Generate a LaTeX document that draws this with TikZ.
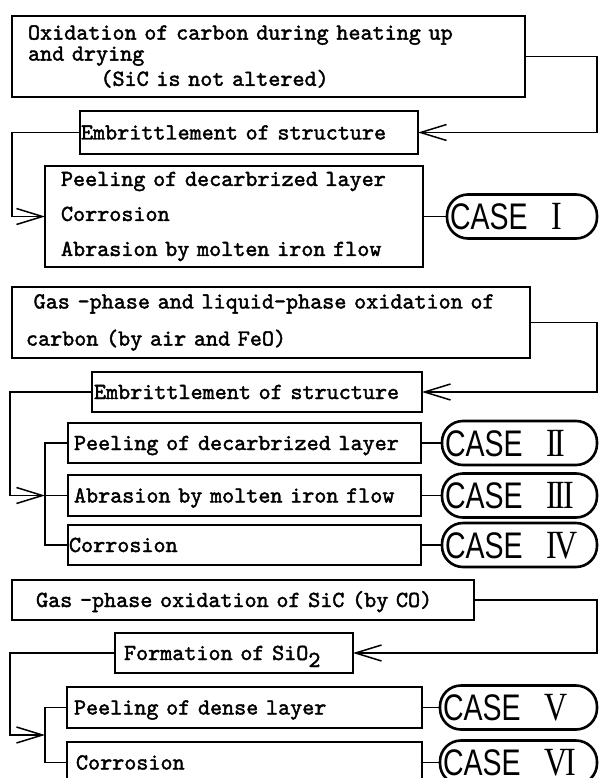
\documentclass[tikz,border=0pt]{standalone}
\usepackage{fontspec}
\newfontfamily\boxfont[FakeBold=1.8]{lmmono10-regular.otf}
\newfontfamily\casefont[FakeStretch=0.77]{Liberation Sans}
\newfontfamily\numfont[FakeStretch=0.8,LetterSpace=-6]{Liberation Serif}
\usetikzlibrary{arrows.meta,positioning,calc}

\begin{document}
\begin{tikzpicture}[
        box/.style={draw, line width=2.8pt, outer sep=0pt, align=left, inner ysep=0pt, font=\boxfont\fontsize{23}{20}\selectfont},
        line/.style={text height=14pt, text depth=0pt},
        casebox/.style={draw, line width=2.6pt, outer sep=0pt, rounded corners=21pt, text width=#1, inner xsep=3pt, inner ysep=8.75pt,
            minimum height=44pt, text height=26.5pt, text depth=0pt, align=left, font=\casefont\fontsize{37}{37}\selectfont},
        link/.style={line width=1.5pt},
        >={Straight Barb[length=26pt,width=16pt]},
    ]
    \useasboundingbox (0,0) rectangle (599pt,-778pt);

    \node[box, anchor=north west, text width=481pt, inner xsep=16pt, minimum height=81pt] (ox1) at (12pt,-16pt)
        {Oxidation of carbon during heating up\\[1pt]and drying\\[3pt]\hspace*{3.15em}(SiC is not altered)};
    \node[box, line, below right=14pt and 68pt of ox1.south west, text width=336pt, inner xsep=1pt, minimum height=43pt] (emb1)
        {Embrittlement of structure};
    \node[box, below right=12pt and -35pt of emb1.south west, text width=346pt, inner xsep=16pt, minimum height=101pt] (peel1)
        {Peeling of decarbrized layer\\[15pt]Corrosion\\[15pt]Abrasion by molten iron flow};
    \node[casebox=144pt, right=24pt of peel1] (case1) {CASE\hspace{24pt}{\numfont\fontsize{40}{40}\selectfont I}};
    \draw[link,->] (ox1.east) -- ++(72pt,0) |- (emb1.east);
    \draw[link,->] (emb1.west) -- ++(-68pt,0) |- (peel1.west);
    \draw[link] (peel1) -- (case1);

    \node[box, below right=20pt and -33pt of peel1.south west, text width=490pt, inner xsep=14pt, minimum height=71pt] (gas2)
        {\mbox{\ Gas -phase and liquid-phase oxidation of}\\[15pt]carbon (by air and FeO)};
    \node[box, line, below right=14pt and 80pt of gas2.south west, text width=326pt, inner xsep=2pt, minimum height=40pt] (emb2)
        {Embrittlement of structure};
    \node[box, line, below right=11pt and -24pt of emb2.south west, text width=341pt, inner xsep=6pt, minimum height=40pt] (peel2)
        {Peeling of decarbrized layer};
    \node[box, line, below=12pt of peel2, text width=341pt, inner xsep=6pt, minimum height=41pt] (abr2)
        {Abrasion by molten iron flow};
    \node[box, line, below=9pt of abr2, text width=351pt, inner xsep=1pt, minimum height=40pt] (corr2)
        {Corrosion};
    \node[casebox=149pt, right=21pt of peel2] (case2) {CASE\hspace{24pt}{\numfont\fontsize{40}{40}\selectfont II}};
    \node[casebox=149pt, right=21pt of abr2] (case3) {CASE\hspace{24pt}{\numfont\fontsize{40}{40}\selectfont III}};
    \node[casebox=149pt, right=21pt of corr2] (case4) {CASE\hspace{24pt}{\numfont\fontsize{40}{40}\selectfont IV}};
    \coordinate (bus2) at ([xshift=-23pt]abr2.west);
    \draw[link,->] (gas2.east) -- ++(67pt,0) |- (emb2.east);
    \draw[link,->] (emb2.west) -- ++(-82pt,0) |- (bus2);
    \draw[link] (peel2.west) -- ++(-23pt,0) |- (corr2.west);
    \draw[link] (bus2) -- (abr2.west);
    \draw[link] (peel2) -- (case2);
    \draw[link] (abr2) -- (case3);
    \draw[link] (corr2) -- (case4);

    \node[box, line, below right=15pt and -56pt of corr2.south west, text width=438pt, inner xsep=12pt, minimum height=40pt] (gas3)
        {\hspace*{0.525em}Gas -phase oxidation of SiC (by CO)};
    \node[box, line, below right=13pt and 103pt of gas3.south west, text width=220pt, inner xsep=9pt, minimum height=40pt] (form3)
        {Formation of SiO\raisebox{-7pt}{2}};
    \node[box, line, below right=14pt and -48pt of form3.south west, text width=341pt, inner xsep=7pt, minimum height=41pt] (peel3)
        {Peeling of dense layer};
    \node[box, line, below=14pt of peel3, text width=337pt, inner xsep=9pt, minimum height=41pt] (corr3)
        {Corrosion};
    \node[casebox=151pt, right=18pt of peel3] (case5) {CASE\hspace{24pt}{\numfont\fontsize{40}{40}\selectfont V}};
    \node[casebox=151pt, right=18pt of corr3] (case6) {CASE\hspace{24pt}{\numfont\fontsize{40}{40}\selectfont VI}};
    \coordinate (bus3) at ($(peel3.west)!0.5!(corr3.west)+(-22pt,0)$);
    \draw[link,->] (gas3.east) -- ++(123pt,0) |- (form3.east);
    \draw[link,->] (form3.west) -- ++(-105pt,0) |- (bus3);
    \draw[link] (peel3.west) -- ++(-22pt,0) |- (corr3.west);
    \draw[link] (peel3) -- (case5);
    \draw[link] (corr3) -- (case6);
\end{tikzpicture}
\end{document}
